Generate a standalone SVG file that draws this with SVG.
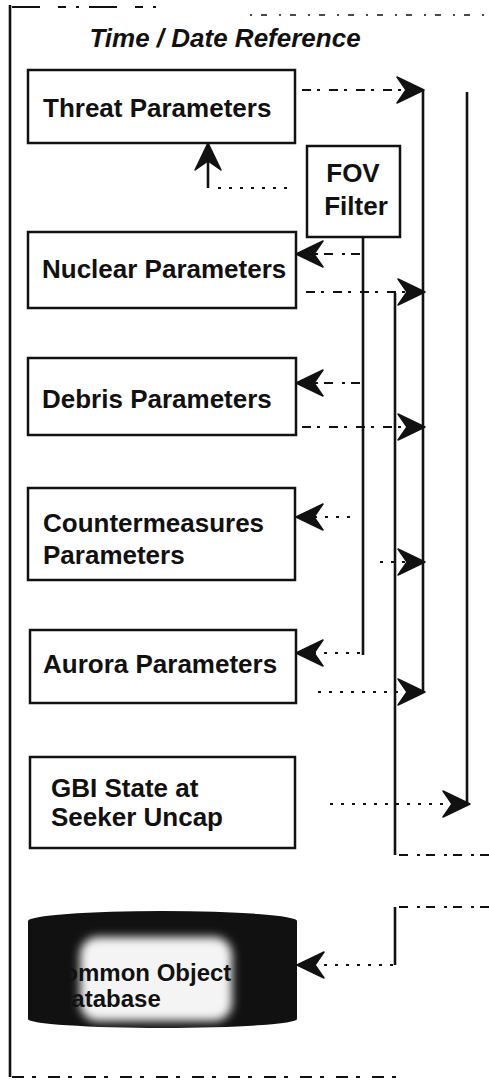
<svg xmlns="http://www.w3.org/2000/svg" width="489" height="1083" viewBox="0 0 489 1083">
<style>
.box{fill:#fff;stroke:#111;stroke-width:2.5}
.lbl{font-family:"Liberation Sans",Arial,sans-serif;font-weight:bold;font-size:26px;fill:#111}
.db{font-family:"Liberation Sans",Arial,sans-serif;font-weight:bold;font-size:24px;fill:#111}
.ttl{font-family:"Liberation Sans",Arial,sans-serif;font-weight:bold;font-style:italic;font-size:26px;fill:#111}
.bus{fill:none;stroke:#111;stroke-width:2.6}
.dash{fill:none;stroke:#111;stroke-width:2;stroke-dasharray:9 6 3 9}
.dot{fill:none;stroke:#111;stroke-width:2;stroke-dasharray:3 8}
</style>
<defs>
<marker id="ah" viewBox="-29 -15 31 30" refX="0" refY="0" markerWidth="31" markerHeight="30" markerUnits="userSpaceOnUse" orient="auto">
<path d="M1,0 L-26,-13 L-17,0 L-26,13 Z" fill="#111" stroke="#111" stroke-width="1.5" stroke-linejoin="round"/>
</marker>
<filter id="blur" x="-30%" y="-30%" width="160%" height="160%"><feGaussianBlur stdDeviation="5"/></filter>
</defs>
<rect width="489" height="1083" fill="#fff"/>
<g id="frame">
<path class="bus" d="M10,5 V1077"/>
<path fill="none" stroke="#111" stroke-width="2" stroke-dasharray="28 18 8 10 3 10" d="M12,7 H158"/>
<path fill="none" stroke="#111" stroke-width="1.6" stroke-dasharray="2 9 6 12" d="M250,15 H489"/>
<path fill="none" stroke="#111" stroke-width="1.8" stroke-dasharray="12 8 4 12" d="M12,1077 H400"/>
</g>
<g id="title"><text class="ttl" x="225" y="47" text-anchor="middle">Time / Date Reference</text></g>
<g id="threat"><rect class="box" x="28" y="70" width="267" height="73"/><text class="lbl" x="43" y="117">Threat Parameters</text></g>
<g id="fov"><rect class="box" x="307" y="146" width="93" height="91"/><text class="lbl" x="353" y="182" text-anchor="middle">FOV</text><text class="lbl" x="356" y="215" text-anchor="middle">Filter</text></g>
<g id="nuclear"><rect class="box" x="28" y="232" width="268" height="76"/><text class="lbl" x="42" y="278">Nuclear Parameters</text></g>
<g id="debris"><rect class="box" x="28" y="358" width="268" height="77"/><text class="lbl" x="42" y="408">Debris Parameters</text></g>
<g id="countermeasures"><rect class="box" x="28" y="488" width="267" height="92"/><text class="lbl" x="43" y="532">Countermeasures</text><text class="lbl" x="43" y="564">Parameters</text></g>
<g id="aurora"><rect class="box" x="30" y="630" width="266" height="73"/><text class="lbl" x="43" y="673">Aurora Parameters</text></g>
<g id="gbi"><rect class="box" x="30" y="757" width="265" height="91"/><text class="lbl" x="51" y="797">GBI State at</text><text class="lbl" x="51" y="826">Seeker Uncap</text></g>
<g id="database">
<path d="M28,921 A134.5,10 0 0 1 297,921 L297,1019 A134.5,9 0 0 1 28,1019 Z" fill="#111"/>
<rect x="80" y="937" width="152" height="84" rx="18" fill="#f4f4f4" filter="url(#blur)"/>
<text class="db" x="46" y="981">Common Object</text>
<text class="db" x="54" y="1007">Database</text>
</g>
<g id="connectors">
<path class="bus" d="M423,90 V692"/>
<path class="bus" d="M467,92 V804"/>
<path class="bus" d="M363,237 V655"/>
<path class="bus" d="M395,293 V855"/>
<path class="bus" d="M395,907 V965"/>
<path class="dash" d="M489,855 H395"/>
<path class="dash" d="M489,907 H395"/>
<path class="dash" d="M302,90 H423" marker-end="url(#ah)"/>
<path class="dot" d="M287,188 H210"/>
<path class="bus" d="M208,188 V144" marker-end="url(#ah)"/>
<path class="dash" d="M360,254 H297" marker-end="url(#ah)"/>
<path class="dash" d="M360,383 H297" marker-end="url(#ah)"/>
<path class="dot" d="M350,517 H297" marker-end="url(#ah)"/>
<path class="dot" d="M360,653 H297" marker-end="url(#ah)"/>
<path class="dash" d="M306,292 H424" marker-end="url(#ah)"/>
<path class="dash" d="M302,427 H424" marker-end="url(#ah)"/>
<path class="dot" d="M380,562 H424" marker-end="url(#ah)"/>
<path class="dot" d="M318,692 H424" marker-end="url(#ah)"/>
<path class="dot" d="M330,804 H469" marker-end="url(#ah)"/>
<path class="dot" d="M393,965 H298" marker-end="url(#ah)"/>
</g>
</svg>
